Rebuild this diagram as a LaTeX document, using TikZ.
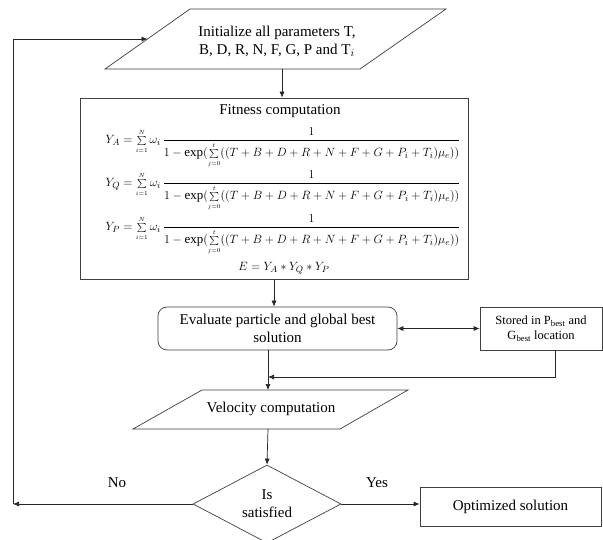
\documentclass[tikz,border=0pt]{standalone}
\usepackage{amsmath}
\usepackage{graphicx}
\usepackage{fontspec}
\setmainfont{Liberation Serif}
\usetikzlibrary{arrows.meta,shapes.geometric}
\newcommand{\smsum}[2]{\mathop{\scriptstyle\sum}\limits_{\scriptscriptstyle #1}^{\scriptscriptstyle #2}}
\newcommand{\fitfrac}{\dfrac{1}{1-\exp(\smsum{j=0}{t}((T+B+D+R+N+F+G+P_i+T_i)\mu_e))}}
\begin{document}
\begin{tikzpicture}[x=1pt,y=-1pt,
  shapeline/.style={draw=black!75, line width=0.7pt},
  conn/.style={draw=black!85, line width=0.7pt, -{Latex[length=6pt,width=5pt]}},
  dconn/.style={draw=black!85, line width=0.7pt, {Latex[length=6pt,width=5pt]}-{Latex[length=6pt,width=5pt]}},
  lbl/.style={font=\fontsize{15}{18}\selectfont, align=center, inner sep=0pt},
  smalllbl/.style={font=\fontsize{12.5}{15}\selectfont, align=center, inner sep=0pt},
  fml/.style={font=\fontsize{13}{16}\selectfont, inner sep=0pt, anchor=base},
]
\useasboundingbox (0,0) rectangle (603,540);
\fill[white] (0,0) rectangle (603,540);

% initialization
\draw[shapeline] (190,9) -- (446,9) -- (360,69) -- (105,69) -- cycle;
\node[lbl] (init) at (277,41) {Initialize all parameters T,\\B, D, R, N, F, G, P and T$_i$};
\coordinate (initin) at (147.5,39);
\coordinate (initout) at (282,69);

% fitness
\node[shapeline, minimum width=388pt, minimum height=181pt, inner sep=0pt] (fit) at (274,188.5) {};
\node[lbl] (fittitle) at (280,111) {Fitness computation};
\node[fml] (fa) at (283,143.5) {$Y_A=\smsum{i=1}{N}\omega_i\,\fitfrac$};
\node[fml] (fq) at (283,186.5) {$Y_Q=\smsum{i=1}{N}\omega_i\,\fitfrac$};
\node[fml] (fp) at (283,230.5) {$Y_P=\smsum{i=1}{N}\omega_i\,\fitfrac$};
\node[font=\fontsize{13}{16}\selectfont, inner sep=0pt] (fe) at (284,268) {$E=Y_A*Y_Q*Y_P$};

% evaluate and store
\node[shapeline, rounded corners=9pt, minimum width=239pt, minimum height=43pt, lbl] (eval) at (277.5,328.5) {Evaluate particle and global best\\solution};
\node[shapeline, minimum width=122pt, minimum height=43pt, smalllbl] (store) at (541,328.5) {Stored in P\textsubscript{best} and\\G\textsubscript{best} location};

% velocity
\draw[shapeline] (202,390) -- (408,390) -- (340,429) -- (133,429) -- cycle;
\node[lbl] (vel) at (271,409) {Velocity computation};
\coordinate (velin) at (268,390);
\coordinate (velout) at (268,429);

% decision
\node[shapeline, diamond, aspect=1.9, minimum width=148pt, minimum height=78pt, lbl] (dec) at (267,504) {Is\\satisfied};
\node[shapeline, minimum width=181pt, minimum height=39pt, lbl] (opt) at (510.5,506.5) {Optimized solution};
\node[lbl] (no) at (117,483) {No};
\node[lbl] (yes) at (377,483) {Yes};

% connectors
\coordinate (merge) at (268,377);
\coordinate (sb) at (555,350);
\coordinate (lp) at (13,504);
\draw[conn] (initout) -- (fit.north -| initout);
\draw[conn] (fit.south) -- (eval.north -| fit.south);
\draw[dconn] (eval.east) -- (store.west);
\draw[conn] (sb) -- (sb |- merge) -- (merge);
\draw[conn] (eval.south -| merge) -- (velin);
\draw[conn] (velout) -- (dec.north);
\draw[conn] (dec.west) -- (lp);
\draw[conn] (lp) -- (lp |- initin) -- (initin);
\draw[conn] (dec.east) -- (opt.west |- dec.east);
\end{tikzpicture}
\end{document}
